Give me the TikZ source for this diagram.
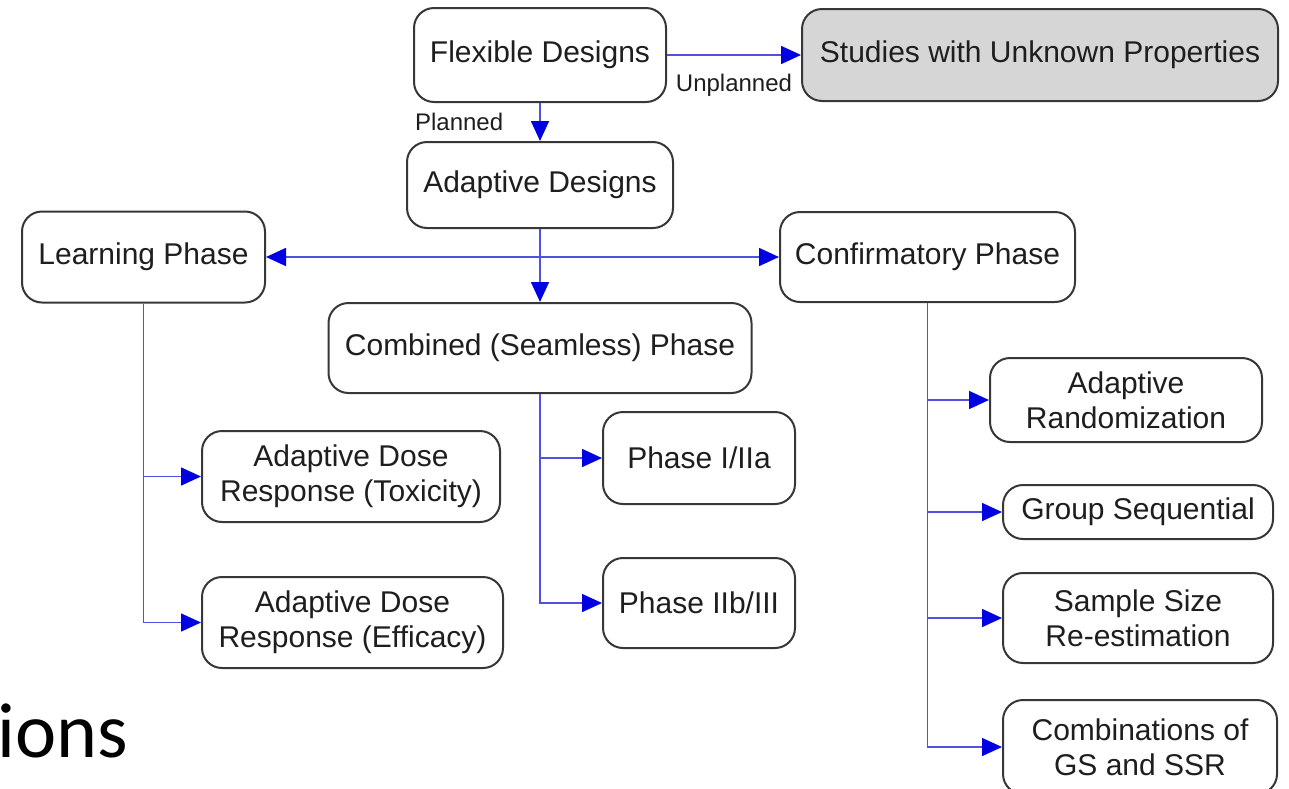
\documentclass[tikz,border=0pt]{standalone}
\usepackage{fontspec}
\setmainfont{Liberation Sans}
\newfontfamily\calib{Carlito}
\usetikzlibrary{arrows.meta}
\definecolor{linecol}{RGB}{80,80,225}
\definecolor{tipcol}{RGB}{0,0,225}
\definecolor{boxcol}{RGB}{55,55,55}
\definecolor{txtcol}{RGB}{30,30,30}
\definecolor{grayfill}{RGB}{214,214,214}
\begin{document}
\begin{tikzpicture}[x=0.5pt,y=-0.5pt,
  >={Triangle[length=10pt,width=9pt,color=tipcol]},
  box/.style={draw=boxcol, line width=1pt, rounded corners=10pt, fill=white, text=txtcol,
    font=\fontsize{15}{17.5}\selectfont, align=center, inner sep=0pt},
  conn/.style={draw=linecol, line width=0.8pt, ->},
  lbl/.style={font=\fontsize{12}{14}\selectfont, text=txtcol, inner sep=0pt}]
\useasboundingbox (0,0) rectangle (1289,788);

\node[box, minimum width=126pt, minimum height=47pt] (flex) at (540,55) {Flexible Designs};
\node[box, fill=grayfill, minimum width=238pt, minimum height=46pt] (studies) at (1040,55) {Studies with Unknown Properties};
\node[box, minimum width=133pt, minimum height=43pt] (adaptive) at (540,185) {Adaptive Designs};
\node[box, minimum width=121.5pt, minimum height=45.5pt] (learning) at (143.5,257) {Learning Phase};
\node[box, minimum width=147.5pt, minimum height=45pt] (confirm) at (927.5,257) {Confirmatory Phase};
\node[box, minimum width=211.5pt, minimum height=45pt] (combined) at (540,348) {Combined (Seamless) Phase};
\node[box, minimum width=149pt, minimum height=45.5pt] (tox) at (351,476.5) {Adaptive Dose\\Response (Toxicity)};
\node[box, minimum width=150.5pt, minimum height=45.5pt] (eff) at (352.5,622.5) {Adaptive Dose\\Response (Efficacy)};
\node[box, minimum width=96pt, minimum height=46pt] (p1) at (699,458) {Phase I/IIa};
\node[box, minimum width=96pt, minimum height=45pt] (p2) at (699,603) {Phase IIb/III};
\node[box, minimum width=136pt, minimum height=42pt] (ar) at (1126,400) {Adaptive\\Randomization};
\node[box, minimum width=135pt, minimum height=27pt] (gs) at (1138,512) {Group Sequential};
\node[box, minimum width=135pt, minimum height=45pt] (ss) at (1138,618) {Sample Size\\Re-estimation};
\node[box, minimum width=137pt, minimum height=47pt] (combo) at (1140,747) {Combinations of\\GS and SSR};

\node[anchor=base west, inner sep=0pt, font=\calib\fontsize{39}{44}\selectfont] (ions) at (-3,757) {ions};

\draw[conn] (flex.east) -- (studies.west) node[lbl, midway, below=9pt] {Unplanned};
\draw[conn] (flex.south) -- (adaptive.north) node[lbl, midway, left=18pt] {Planned};
\draw[conn, <->] (learning.east) -- (confirm.west);
\draw[conn] (adaptive.south) -- (combined.north);

\draw[conn] (learning.south) |- (tox.west);
\draw[conn] (learning.south) |- (eff.west);
\draw[conn] (combined.south) |- (p1.west);
\draw[conn] (combined.south) |- (p2.west);
\draw[conn] (confirm.south) |- (ar.west);
\draw[conn] (confirm.south) |- (gs.west);
\draw[conn] (confirm.south) |- (ss.west);
\draw[conn] (confirm.south) |- (combo.west);
\end{tikzpicture}
\end{document}
